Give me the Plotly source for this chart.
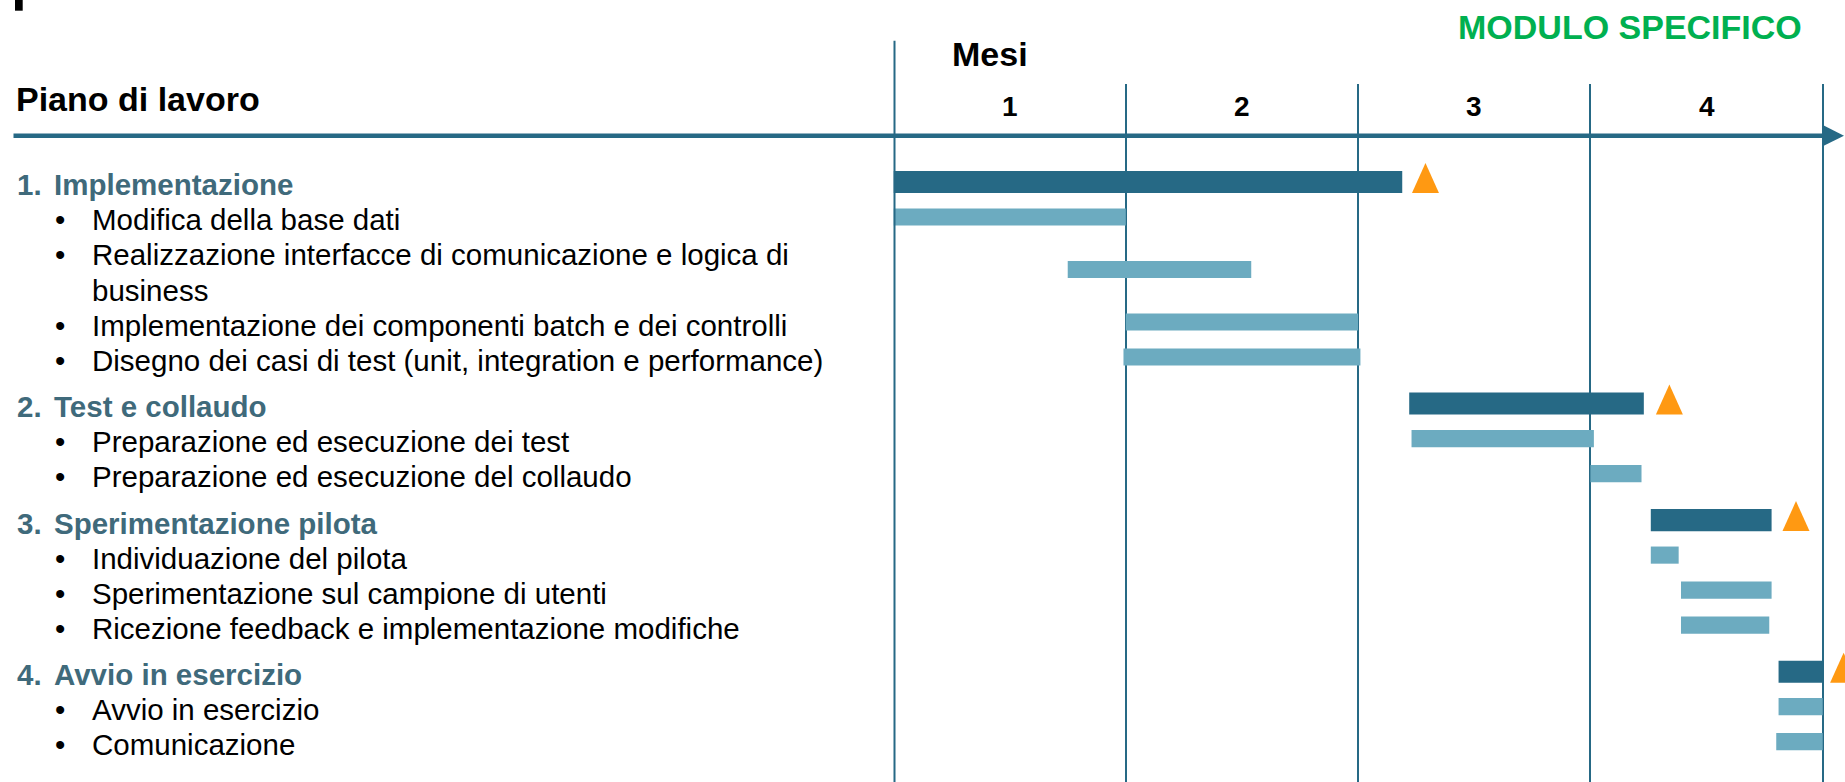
import plotly.graph_objects as go

W, H = 1845, 782
FONT = "Liberation Sans, Arial, sans-serif"
DARK = "#266985"
LIGHT = "#6CABC0"
ORANGE = "#FF9912"
HEAD = "#3F6A7B"
GREEN = "#00B050"

months = [1, 2, 3, 4]

phases = ["Implementazione", "Test e collaudo", "Sperimentazione pilota", "Avvio in esercizio"]
phase_start = [0.0, 2.22, 3.26, 3.81]
phase_end = [2.19, 3.23, 3.78, 4.0]
milestones = [2.29, 3.34, 3.885, 4.09]

activities = [
    "Modifica della base dati",
    "Realizzazione interfacce di comunicazione e logica di<br>business",
    "Implementazione dei componenti batch e dei controlli",
    "Disegno dei casi di test (unit, integration e performance)",
    "Preparazione ed esecuzione dei test",
    "Preparazione ed esecuzione del collaudo",
    "Individuazione del pilota",
    "Sperimentazione sul campione di utenti",
    "Ricezione feedback e implementazione modifiche",
    "Avvio in esercizio",
    "Comunicazione",
]
activity_phase = [0, 0, 0, 0, 1, 1, 2, 2, 2, 3, 3]
activity_start = [0.0, 0.75, 1.0, 0.99, 2.23, 3.0, 3.26, 3.39, 3.39, 3.81, 3.80]
activity_end = [1.0, 1.54, 2.0, 2.01, 3.015, 3.22, 3.38, 3.78, 3.77, 4.0, 4.0]

# vertical layout in text-line units (one line = 35px), extra gap before each phase
GAP = 0.33
phase_v, act_v, text_rows = [], [None] * len(activities), []
v = 0.0
for p, name in enumerate(phases):
    if p:
        v += GAP
    phase_v.append(v)
    text_rows.append(("phase", p, name, v))
    v += 1
    for i, a in enumerate(activities):
        if activity_phase[i] != p:
            continue
        lines = a.split("<br>")
        act_v[i] = v + (len(lines) - 1) / 2
        for k, ln in enumerate(lines):
            text_rows.append(("act", k, ln, v))
            v += 1


def py(px):
    return 1 - px / H


fig = go.Figure()
fig.add_trace(go.Bar(
    orientation="h", y=act_v, base=activity_start,
    x=[e - s for s, e in zip(activity_start, activity_end)],
    width=0.49, marker=dict(color=LIGHT, line=dict(width=0)), hoverinfo="skip"))
fig.add_trace(go.Bar(
    orientation="h", y=phase_v, base=phase_start,
    x=[e - s for s, e in zip(phase_start, phase_end)],
    width=0.63, marker=dict(color=DARK, line=dict(width=0)), hoverinfo="skip"))

shapes = [
    dict(type="line", xref="x", yref="paper", x0=0, x1=0, y0=0, y1=py(40.7),
         line=dict(color=DARK, width=4)),
    dict(type="rect", xref="paper", yref="paper", x0=15 / W, x1=22.7 / W, y0=py(10.7), y1=1,
         fillcolor="black", line=dict(width=0)),
]
for m, pv in zip(milestones, phase_v):
    shapes.append(dict(type="path", xref="x", yref="y", xsizemode="pixel", ysizemode="pixel",
                       xanchor=m, yanchor=pv, path="M -13.5,-11 L 13.5,-11 L 0,19 Z",
                       fillcolor=ORANGE, line=dict(width=0), layer="above"))

ann = []
# main axis with arrow
ann.append(dict(xref="paper", yref="paper", x=1860 / W, y=py(135.7), ax=-1848, ay=0,
                text="", showarrow=True, arrowhead=2, arrowsize=0.9, arrowwidth=4.5,
                arrowcolor=DARK))
ann.append(dict(xref="paper", yref="paper", x=14 / W, y=py(99), xanchor="left", yanchor="middle",
                text="<b>Piano di lavoro</b>", showarrow=False,
                font=dict(family=FONT, size=34, color="black")))
ann.append(dict(xref="paper", yref="paper", x=950 / W, y=py(54), xanchor="left", yanchor="middle",
                text="<b>Mesi</b>", showarrow=False,
                font=dict(family=FONT, size=34, color="black")))
ann.append(dict(xref="paper", yref="paper", x=1456 / W, y=py(27.5), xanchor="left", yanchor="middle",
                text="<b>MODULO SPECIFICO</b>", showarrow=False,
                font=dict(family=FONT, size=34, color=GREEN)))
for m in months:
    ann.append(dict(xref="x", yref="paper", x=m - 0.5, y=py(106.7), xanchor="center", yanchor="middle",
                    text=f"<b>{m}</b>", showarrow=False,
                    font=dict(family=FONT, size=28, color="black")))

for kind, k, txt, rv in text_rows:
    if kind == "phase":
        ann.append(dict(xref="paper", yref="y", x=15 / W, y=rv, xanchor="left", yanchor="middle",
                        text=f"<b>{k + 1}.</b>", showarrow=False, yshift=-3,
                        font=dict(family=FONT, size=29.5, color=HEAD)))
        ann.append(dict(xref="paper", yref="y", x=52 / W, y=rv, xanchor="left", yanchor="middle",
                        text=f"<b>{txt}</b>", showarrow=False, yshift=-3,
                        font=dict(family=FONT, size=29.5, color=HEAD)))
    else:
        if k == 0:
            ann.append(dict(xref="paper", yref="y", x=60 / W, y=rv, xanchor="center", yanchor="middle",
                            text="•", showarrow=False, yshift=-3,
                            font=dict(family=FONT, size=29.5, color="black")))
        ann.append(dict(xref="paper", yref="y", x=90 / W, y=rv, xanchor="left", yanchor="middle",
                        text=txt, showarrow=False, yshift=-3,
                        font=dict(family=FONT, size=29.5, color="black")))

fig.update_layout(
    width=W, height=H, margin=dict(l=0, r=0, t=0, b=0),
    paper_bgcolor="white", plot_bgcolor="white",
    showlegend=False, barmode="overlay",
    xaxis=dict(domain=[893.5 / W, 1], range=[0, (W - 893.5) / 232.3],
               tickvals=months, showticklabels=False, showgrid=True,
               gridcolor=DARK, gridwidth=2, zeroline=False, showline=False),
    yaxis=dict(domain=[0, 1 - 84 / H], range=[(H - 182) / 35, (84 - 182) / 35],
               showticklabels=False, showgrid=False, zeroline=False, showline=False),
    shapes=shapes, annotations=ann,
)

# page body margin would shift the whole chart by 8px
fig.write_html("out.html", config={"displayModeBar": False},
               post_script="document.body.style.margin='0';")
